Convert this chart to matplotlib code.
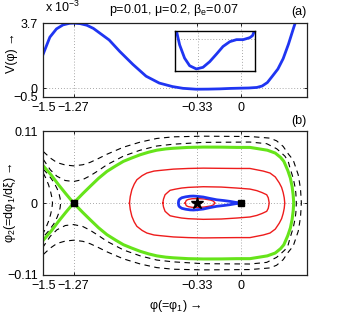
import matplotlib
matplotlib.use('Agg')
import matplotlib.pyplot as plt

plt.rcParams['font.family'] = ['Liberation Sans', 'DejaVu Sans']
plt.rcParams['mathtext.fontset'] = 'custom'
plt.rcParams['mathtext.rm'] = 'Liberation Sans'
plt.rcParams['mathtext.default'] = 'regular'
plt.rcParams['font.size'] = 9

# (a) Sagdeev potential, V in units of 1e-3
phi_v = [-1.50, -1.45, -1.40, -1.35, -1.30, -1.27, -1.22, -1.17, -1.12, -1.06, -1.00,
         -0.92, -0.82, -0.72, -0.62, -0.52, -0.44, -0.34, -0.25, -0.16, -0.08, 0.0,
         0.06, 0.12, 0.16, 0.20, 0.24, 0.28, 0.32, 0.36, 0.40, 0.42]
v_val = [1.95, 2.90, 3.37, 3.60, 3.69, 3.70, 3.67, 3.58, 3.40, 3.07, 2.74,
         2.09, 1.35, 0.68, 0.29, 0.09, -0.01, -0.06, -0.055, -0.04, -0.015, 0.0,
         0.01, 0.04, 0.12, 0.32, 0.70, 1.09, 1.68, 2.50, 3.45, 3.90]

# inset (zoom near the well)
inset_phi = [-0.49, -0.466, -0.429, -0.391, -0.341, -0.291, -0.241, -0.190, -0.141,
             -0.090, -0.040, 0.010, 0.060, 0.080, 0.092]
inset_v = [0.02, -0.015, -0.048, -0.067, -0.075, -0.071, -0.057, -0.038, -0.019,
           -0.007, -0.002, -0.002, 0.003, 0.008, 0.018]

# (b) phase portrait, upper halves (lower halves are mirror images)
sep_phi = [-1.50, -1.44, -1.384, -1.33, -1.27, -1.20, -1.144, -1.08, -1.017, -0.95, -0.892,
           -0.83, -0.765, -0.70, -0.639, -0.57, -0.513, -0.40, -0.286, -0.15, -0.033, 0.068,
           0.20, 0.26, 0.30, 0.325, 0.355, 0.375, 0.388, 0.396, 0.40]
sep_phi2 = [0.057, 0.043, 0.028, 0.0145, 0.0, 0.0145, 0.0256, 0.038, 0.0485, 0.057, 0.0639,
            0.069, 0.074, 0.078, 0.081, 0.083, 0.084, 0.0853, 0.0858, 0.0857, 0.0853, 0.0853,
            0.081, 0.0766, 0.070, 0.064, 0.050, 0.038, 0.025, 0.012, 0.0]

red_out_phi = [-0.846, -0.84, -0.828, -0.81, -0.79, -0.75, -0.714, -0.66, -0.614, -0.513,
               -0.40, -0.286, -0.15, -0.033, 0.068, 0.169, 0.22, 0.26, 0.29, 0.308, 0.32,
               0.328, 0.332]
red_out_phi2 = [0.0, 0.010, 0.0204, 0.029, 0.0357, 0.042, 0.046, 0.049, 0.050, 0.052,
                0.053, 0.0535, 0.0532, 0.053, 0.053, 0.049, 0.046, 0.040, 0.031, 0.024, 0.016,
                0.008, 0.0]

red_mid_phi = [-0.593, -0.588, -0.576, -0.555, -0.538, -0.50, -0.45, -0.40, -0.286, -0.15,
               -0.033, 0.068, 0.12, 0.16, 0.195, 0.207, 0.214]
red_mid_phi2 = [0.0, 0.006, 0.0127, 0.0165, 0.0195, 0.0212, 0.023, 0.024, 0.025, 0.0245,
                0.023, 0.0214, 0.019, 0.016, 0.0127, 0.008, 0.0]

red_in_phi = [-0.424, -0.415, -0.40, -0.37, -0.33, -0.28, -0.23, -0.21, -0.197]
red_in_phi2 = [0.0, 0.004, 0.0055, 0.0066, 0.0068, 0.0062, 0.0045, 0.003, 0.0]

loop_phi = [0.0, -0.04, -0.083, -0.13, -0.184, -0.24, -0.286, -0.33, -0.361, -0.386,
            -0.42, -0.449, -0.465, -0.472, -0.475]
loop_phi2 = [0.0, 0.001, 0.0025, 0.0038, 0.005, 0.0072, 0.0092, 0.0102, 0.0107, 0.0105,
             0.0095, 0.0081, 0.006, 0.004, 0.0]

dash1_phi = [-1.50, -1.447, -1.396, -1.333, -1.27, -1.20, -1.144, -1.08, -1.017, -0.892,
             -0.765, -0.639, -0.513, -0.286, 0.068, 0.195, 0.27, 0.295, 0.333, 0.358, 0.371,
             0.396, 0.41, 0.416, 0.42]
dash1_phi2 = [0.067, 0.051, 0.041, 0.0345, 0.033, 0.036, 0.0418, 0.050, 0.0587, 0.0719,
              0.081, 0.0874, 0.0902, 0.093, 0.0935, 0.091, 0.0833, 0.079, 0.0719, 0.064, 0.0543,
              0.038, 0.0246, 0.0155, 0.0]

dash2_phi = [-1.50, -1.447, -1.396, -1.333, -1.27, -1.20, -1.144, -1.08, -1.017, -0.892,
             -0.765, -0.639, -0.513, -0.286, 0.068, 0.22, 0.27, 0.32, 0.36, 0.396, 0.434,
             0.445, 0.452, 0.458]
dash2_phi2 = [0.079, 0.0691, 0.062, 0.0583, 0.057, 0.0587, 0.0624, 0.0684, 0.0748, 0.0856,
              0.0934, 0.099, 0.1015, 0.1025, 0.102, 0.0995, 0.0954, 0.0868, 0.075, 0.066, 0.0434,
              0.030, 0.020, 0.0]

left1_phi = [-1.50, -1.48, -1.46, -1.445, -1.435, -1.43]
left1_phi2 = [0.046, 0.038, 0.028, 0.018, 0.009, 0.0]
left2_phi = [-1.50, -1.46, -1.42, -1.395, -1.38, -1.372, -1.368]
left2_phi2 = [0.052, 0.043, 0.032, 0.022, 0.014, 0.007, 0.0]

xticks = [-1.5, -1.27, -0.33, 0]
xticklabels = ['\u22121.5', '\u22121.27', '\u22120.33', '0']


def mirror(xs, ys):
    # upper half followed by the mirrored lower half
    return list(xs) + list(xs[::-1]), list(ys) + [-v for v in ys[::-1]]


def style(ax):
    ax.grid(True, linestyle=(0, (1, 2.5)), color='#8c8c8c', linewidth=0.6)
    ax.tick_params(direction='in', top=True, right=True, length=2.5, width=0.6,
                   labelsize=9, pad=4)
    for s in ax.spines.values():
        s.set_linewidth(0.9)
        s.set_color('#222222')


fig = plt.figure(figsize=(3.38, 3.21), dpi=100)

blue = '#1f35f2'
green = '#66e41a'
red = '#ee1c1c'

# ---- (a)
ax1 = fig.add_axes([0.128, 0.698, 0.780, 0.230])
ax1.plot(phi_v, v_val, color=blue, lw=2.0)
ax1.set_xlim(-1.5, 0.5)
ax1.set_ylim(-0.5, 3.7)
ax1.set_xticks(xticks)
ax1.set_xticklabels(xticklabels)
ax1.set_yticks([-0.5, 0, 3.7])
ax1.set_yticklabels(['\u22120.5', '0', '3.7'])
ax1.set_ylabel('V(φ) \u2192')
ax1.yaxis.set_label_coords(-0.095, 0.6)
style(ax1)

fig.text(0.132, 0.952, 'x 10$^{-3}$', fontsize=9, ha='left', va='bottom')
fig.text(0.515, 0.945, 'p=0.01, μ=0.2, β$_e$=0.07', fontsize=9, ha='center', va='bottom')
fig.text(0.908, 0.945, '(a)', fontsize=9, ha='right', va='bottom')

axi = fig.add_axes([0.518, 0.779, 0.237, 0.125])
axi.plot(inset_phi, inset_v, color=blue, lw=2.0)
axi.set_xlim(-0.5, 0.1)
axi.set_ylim(-0.08, 0.02)
axi.set_xticks([-0.33, 0])
axi.set_yticks([0])
axi.set_xticklabels([])
axi.set_yticklabels([])
axi.grid(True, linestyle=(0, (1, 2.5)), color='#8c8c8c', linewidth=0.6)
axi.tick_params(length=0)
for s in axi.spines.values():
    s.set_linewidth(1.0)
    s.set_color('k')

# ---- (b)
ax2 = fig.add_axes([0.128, 0.144, 0.780, 0.447])
dash_kw = dict(color='k', lw=0.8, linestyle=(0, (5, 4)))
for xs, ys in [(dash1_phi, dash1_phi2), (dash2_phi, dash2_phi2),
               (left1_phi, left1_phi2), (left2_phi, left2_phi2)]:
    mx, my = mirror(xs, ys)
    ax2.plot(mx, my, **dash_kw)

for xs, ys in [(red_out_phi, red_out_phi2), (red_mid_phi, red_mid_phi2),
               (red_in_phi, red_in_phi2)]:
    mx, my = mirror(xs, ys)
    ax2.plot(mx, my, color=red, lw=1.0)

mx, my = mirror(sep_phi, sep_phi2)
ax2.plot(mx, my, color=green, lw=2.2)
mx, my = mirror(loop_phi, loop_phi2)
ax2.plot(mx, my, color=blue, lw=2.0)

ax2.plot([-1.27], [0], marker='s', color='k', ms=5, zorder=5)
ax2.plot([0], [0], marker='s', color='k', ms=4.5, zorder=5)
ax2.plot([-0.33], [0], marker='*', color='k', ms=9, zorder=5)

ax2.set_xlim(-1.5, 0.5)
ax2.set_ylim(-0.11, 0.11)
ax2.set_xticks(xticks)
ax2.set_xticklabels(xticklabels)
ax2.set_yticks([-0.11, 0, 0.11])
ax2.set_yticklabels(['\u22120.11', '0', '0.11'])
ax2.set_xlabel('φ(=φ$_1$) \u2192', labelpad=4)
ax2.set_ylabel('φ$_2$(=dφ$_1$/dξ) \u2192')
ax2.yaxis.set_label_coords(-0.095, 0.5)
style(ax2)
fig.text(0.908, 0.603, '(b)', fontsize=9, ha='right', va='bottom')

fig.savefig('out.png', dpi=100)
